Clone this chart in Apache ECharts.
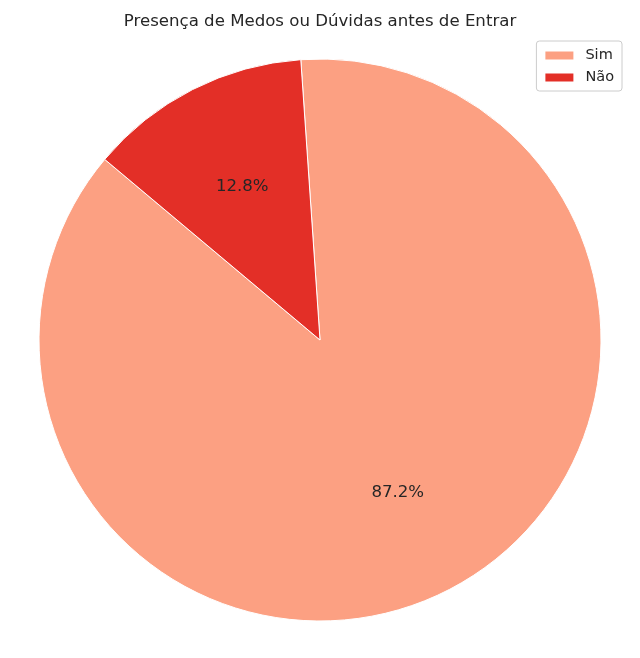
<!DOCTYPE html>
<html>
<head>
<meta charset="utf-8">
<script src="https://cdn.jsdelivr.net/npm/echarts@6/dist/echarts.min.js"></script>
<style>
  html, body { margin: 0; padding: 0; background: #fff; }
  #chart { width: 640px; height: 658px; }
</style>
</head>
<body>
<div id="chart"></div>
<script>
// dados do gráfico
var categorias = ['Sim', 'Não']
var valores = [87.2, 12.8]
var cores = ['#FCA082', '#E32F27']

var dados = categorias.map(function (c, i) {
  return { name: c, value: valores[i], itemStyle: { color: cores[i] } }
})

var chart = echarts.init(document.getElementById('chart'))
chart.setOption({
  animation: false,
  textStyle: { fontFamily: 'DejaVu Sans' },
  title: {
    text: 'Presença de Medos ou Dúvidas antes de Entrar',
    left: 'center',
    top: 8,
    textStyle: { fontSize: 16.6, fontWeight: 'normal', color: '#262626', fontFamily: 'DejaVu Sans' }
  },
  legend: {
    orient: 'vertical',
    right: 18,
    top: 41,
    icon: 'rect',
    itemWidth: 30,
    itemHeight: 10,
    itemGap: 7,
    padding: [7, 8, 6, 7],
    borderColor: '#cccccc',
    borderWidth: 1,
    borderRadius: 3,
    backgroundColor: '#ffffff',
    textStyle: { fontSize: 14.5, color: '#262626', padding: [0, 0, 0, 6] },
    data: categorias
  },
  series: [
    {
      type: 'pie',
      center: [320, 340],
      radius: 281,
      startAngle: 140,
      clockwise: false,
      label: { show: false },
      labelLine: { show: false },
      itemStyle: { borderColor: '#ffffff', borderWidth: 1 },
      data: dados
    },
    {
      // série auxiliar só para posicionar os rótulos a 0.6 do raio
      type: 'pie',
      center: [320, 340],
      radius: 337,
      startAngle: 140,
      clockwise: false,
      silent: true,
      legendHoverLink: false,
      itemStyle: { color: 'rgba(0,0,0,0)' },
      label: {
        show: true,
        position: 'inside',
        fontSize: 16.6,
        color: '#262626',
        formatter: function (p) { return p.percent.toFixed(1) + '%' }
      },
      labelLine: { show: false },
      data: categorias.map(function (c, i) { return { name: c + ' ', value: valores[i] } })
    }
  ]
})
</script>
</body>
</html>
